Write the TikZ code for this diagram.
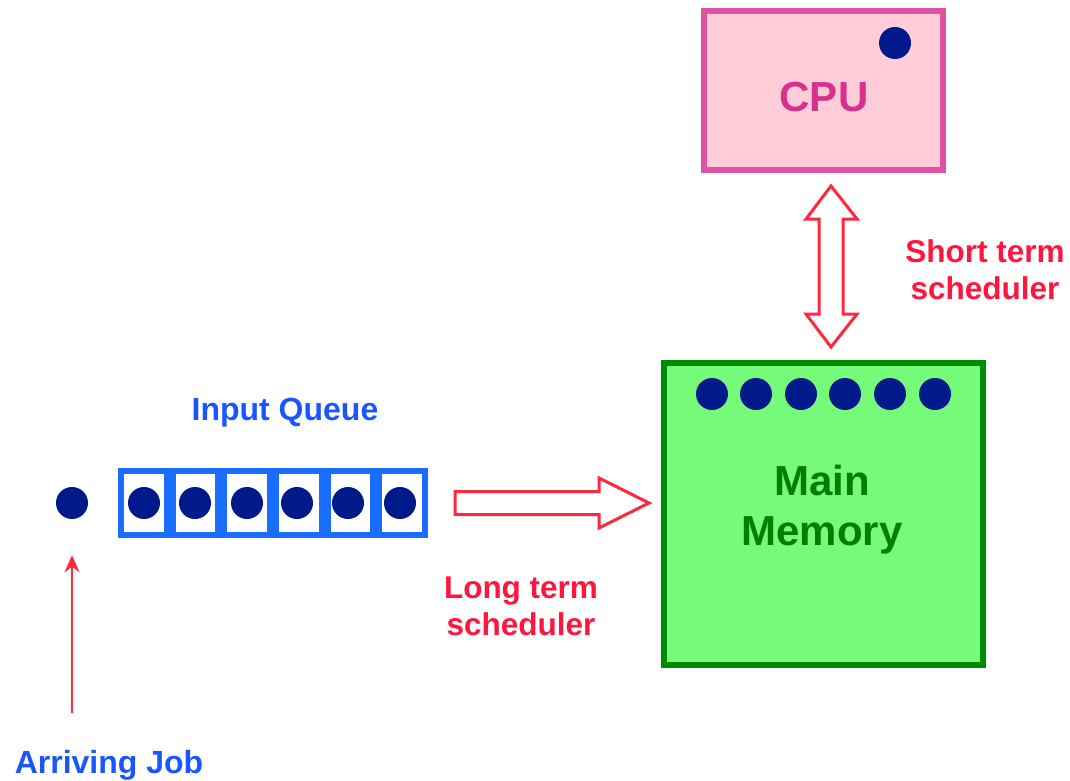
\documentclass[tikz,border=0pt]{standalone}
\usepackage{fontspec}
\setmainfont{Liberation Sans}
\usetikzlibrary{arrows.meta}

\definecolor{dotblue}{RGB}{0,26,140}
\definecolor{qblue}{RGB}{26,110,255}
\definecolor{txtblue}{RGB}{26,86,255}
\definecolor{cpufill}{RGB}{255,205,216}
\definecolor{cpuedge}{RGB}{226,80,160}
\definecolor{cputext}{RGB}{214,50,140}
\definecolor{memfill}{RGB}{118,250,122}
\definecolor{memedge}{RGB}{0,140,0}
\definecolor{memtext}{RGB}{0,125,0}
\definecolor{schred}{RGB}{255,22,62}
\definecolor{arrred}{RGB}{255,40,60}

\tikzset{
  job/.style={circle, fill=dotblue, inner sep=0pt, minimum size=32pt},
  cell/.style={draw=qblue, line width=6pt, fill=white, inner sep=0pt,
               minimum width=45.7pt, minimum height=64pt},
  boxlabel/.style={font=\bfseries\fontsize{42}{50}\selectfont, align=center},
  sched/.style={font=\bfseries\fontsize{31.5}{37}\selectfont, text=schred, align=center},
  qlabel/.style={font=\bfseries\fontsize{32}{38}\selectfont, text=txtblue},
  blockarrow/.style={draw=arrred, line width=3pt, fill=white, line join=miter},
}

\begin{document}
\begin{tikzpicture}[x=1pt, y=-1pt]
\useasboundingbox (0,0) rectangle (1070,781);

% CPU
\node[draw=cpuedge, fill=cpufill, line width=6pt, minimum width=239pt,
      minimum height=159pt, inner sep=0pt] (cpu) at (823.5,90.5) {};
\node[boxlabel, text=cputext] (cputxt) at (824,97) {CPU};
\node[job] (cpujob) at (895,43) {};

% Main memory
\node[draw=memedge, fill=memfill, line width=6pt, minimum width=319pt,
      minimum height=302pt, inner sep=0pt] (mem) at (823.5,514) {};
\node[boxlabel, text=memtext] (memtxt) at (822,510) {Main\\Memory};
\foreach \i/\x in {1/712,2/756,3/801,4/845,5/890,6/935}
  \node[job] (m\i) at (\x,394) {};

% Input queue
\foreach \i/\x in {1/143.8,2/195.4,3/247.1,4/298.8,5/350.4,6/402.1}
  \node[cell] (c\i) at (\x,503) {};
\foreach \i/\x in {1/144,2/195,3/247,4/297,5/348,6/400}
  \node[job] (q\i) at (\x,503) {};
\node[qlabel] (qtxt) at (285,413) {Input Queue};

% Arriving job
\node[job] (newjob) at (72,503) {};
\node[qlabel, anchor=base] (arrtxt) at (109,773) {Arriving Job};
\coordinate (arrtail) at (72,713);
\draw[arrred, line width=2.5pt, -{Stealth[length=17pt,width=15pt]}, shorten >=36pt]
  (arrtail) -- (newjob);

% Long term scheduler: block arrow from queue to memory
\draw[blockarrow]
  (455,491.5) -- (599,491.5) -- (599,478) -- (649,503)
  -- (599,528) -- (599,514.5) -- (455,514.5) -- cycle;
\node[sched] (lts) at (521,606) {Long term\\scheduler};

% Short term scheduler: double block arrow between memory and CPU
\draw[blockarrow]
  (831,186) -- (857,219) -- (843,219) -- (843,314) -- (857,314)
  -- (831,347) -- (806,314) -- (819,314) -- (819,219) -- (806,219) -- cycle;
\node[sched] (sts) at (985,270) {Short term\\scheduler};
\end{tikzpicture}
\end{document}
